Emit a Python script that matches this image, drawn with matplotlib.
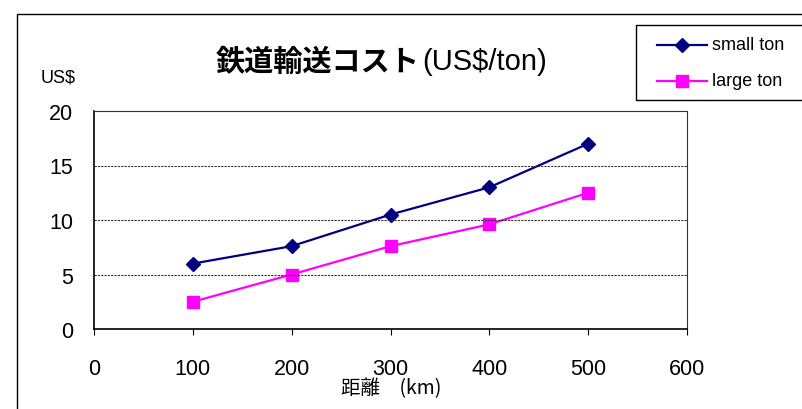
import matplotlib
matplotlib.use("Agg")
import matplotlib.pyplot as plt
from matplotlib.patches import Rectangle
from matplotlib.lines import Line2D

plt.rcParams['font.family'] = ['Liberation Sans', 'Noto Sans CJK JP', 'DejaVu Sans']

distance = [100, 200, 300, 400, 500]
small_ton = [6.0, 7.6, 10.5, 13.0, 17.0]
large_ton = [2.5, 5.0, 7.6, 9.6, 12.5]
x_ticks = [0, 100, 200, 300, 400, 500, 600]
y_ticks = [0, 5, 10, 15, 20]

W, H = 802, 410
fig = plt.figure(figsize=(W / 100, H / 100), dpi=100)


def fx(px):
    return px / W


def fy(py):
    return 1 - py / H


# outer chart frame
fig.patches.append(Rectangle((fx(17), -0.01), 1.0, fy(15) + 0.01,
                             transform=fig.transFigure, fill=False,
                             edgecolor='black', linewidth=1.0))

ax = fig.add_axes([fx(94), fy(330), fx(687 - 94), (330 - 112) / H])
line_s, = ax.plot(distance, small_ton, color='#000080', marker='D', markersize=7,
                  linewidth=1.6, label='small ton')
line_l, = ax.plot(distance, large_ton, color='#FF00FF', marker='s', markersize=9,
                  linewidth=1.6, label='large ton')

ax.set_xlim(0, 600)
ax.set_ylim(0, 20)
ax.set_xticks(x_ticks)
ax.set_yticks(y_ticks)
ax.tick_params(axis='x', length=4, pad=17, labelsize=15.5, direction='out')
ax.tick_params(axis='y', length=0, pad=15, labelsize=15.5)
for y in y_ticks[1:-1]:
    ax.axhline(y, color='#333333', linestyle=(0, (2, 1)), linewidth=0.8)

for side in ['left', 'bottom']:
    ax.spines[side].set_linewidth(1.2)
ax.spines['top'].set_linestyle((0, (2, 1)))
ax.spines['top'].set_color('#333333')
ax.spines['right'].set_color('#333333')

fig.text(fx(41), fy(78), 'US$', fontsize=13, ha='left', va='center')
fig.text(fx(391), fy(389), '距離　(km)', fontsize=14, ha='center', va='center',
         family=['Noto Sans CJK JP', 'DejaVu Sans'])

# title: bold Japanese part followed by regular unit part
fig.text(fx(420), fy(62), '鉄道輸送コスト', fontsize=21, fontweight='bold',
         ha='right', va='center', family=['Noto Sans CJK JP'])
fig.text(fx(422), fy(62), '(US$/ton)', fontsize=21, ha='left', va='center')

# legend box, running off the right edge of the chart frame
fig.patches.append(Rectangle((fx(636), fy(101)), fx(200), (101 - 26) / H,
                             transform=fig.transFigure, fill=False,
                             edgecolor='black', linewidth=1.0))
for handle, ypx in [(line_s, 46), (line_l, 82)]:
    fig.add_artist(Line2D([fx(657), fx(707)], [fy(ypx), fy(ypx)],
                          transform=fig.transFigure, color=handle.get_color(),
                          linewidth=handle.get_linewidth()))
    fig.add_artist(Line2D([fx(682)], [fy(ypx)], transform=fig.transFigure,
                          color=handle.get_color(), marker=handle.get_marker(),
                          markersize=handle.get_markersize(), linestyle='none'))
    fig.text(fx(712), fy(ypx), handle.get_label(), fontsize=13,
             ha='left', va='center')

fig.savefig('out.png', dpi=100)
